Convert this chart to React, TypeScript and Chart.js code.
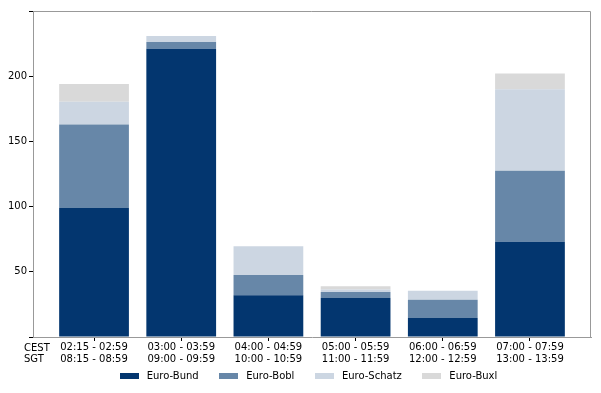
import React, { useEffect, useRef } from 'react';
import { Chart, registerables } from 'chart.js';

Chart.register(...registerables);

const timeLabels: string[][] = [
  ['02:15 - 02:59', '08:15 - 08:59'],
  ['03:00 - 03:59', '09:00 - 09:59'],
  ['04:00 - 04:59', '10:00 - 10:59'],
  ['05:00 - 05:59', '11:00 - 11:59'],
  ['06:00 - 06:59', '12:00 - 12:59'],
  ['07:00 - 07:59', '13:00 - 13:59'],
];
const zoneLabels = ['CEST', 'SGT'];

const seriesNames = ['Euro-Bund', 'Euro-Bobl', 'Euro-Schatz', 'Euro-Buxl'];
const bund = [99, 221, 32, 30, 14.5, 73];
const bobl = [64, 5.3, 15.5, 4.5, 14, 54.5];
const schatz = [17.5, 4.6, 22, 2, 7, 62.5];
const buxl = [13.5, 0, 0, 2.5, 0, 12];
const seriesColors = ['#03366F', '#6787A8', '#CCD6E2', '#D9D9D9'];

const yTicks = [0, 50, 100, 150, 200, 250];

const FONT = 'DejaVu Sans';

const framePlugin = {
  id: 'frameAndExtras',
  afterDraw(chart: any) {
    const { ctx, chartArea } = chart;
    const { left, right, top, bottom } = chartArea;
    ctx.save();
    ctx.strokeStyle = '#999999';
    ctx.lineWidth = 1;
    ctx.beginPath();
    const t = Math.round(top) + 0.5;
    const r = Math.round(right) - 0.5;
    ctx.moveTo(Math.round(left), t);
    ctx.lineTo(r, t);
    ctx.lineTo(r, Math.round(bottom));
    ctx.stroke();

    // zone labels
    ctx.fillStyle = '#000';
    ctx.font = `10px "${FONT}"`;
    ctx.textAlign = 'left';
    ctx.textBaseline = 'middle';
    ctx.fillText(zoneLabels[0], 24, bottom + 11);
    ctx.fillText(zoneLabels[1], 24, bottom + 22.6);

    // legend
    const datasets = chart.data.datasets;
    const boxW = 19, boxH = 6, gap = 8, spacing = 20.5;
    const widths = datasets.map((d: any) => ctx.measureText(d.label).width);
    const total = widths.reduce((a: number, b: number) => a + b, 0) + datasets.length * (boxW + gap) + (datasets.length - 1) * spacing;
    let x = (left + right) / 2 - 3.5 - total / 2;
    const cy = 376.5;
    datasets.forEach((d: any, i: number) => {
      ctx.fillStyle = d.backgroundColor;
      ctx.fillRect(Math.round(x), Math.round(cy - boxH / 2 - 0.5), boxW, boxH);
      ctx.fillStyle = '#000';
      ctx.fillText(d.label, x + boxW + gap, cy);
      x += boxW + gap + widths[i] + spacing;
    });
    ctx.restore();
  },
};

export default function App() {
  const ref = useRef<HTMLCanvasElement>(null);
  useEffect(() => {
    if (!ref.current) return;
    const series = [bund, bobl, schatz, buxl];
    const chart = new Chart(ref.current, {
      type: 'bar',
      data: {
        datasets: series.map((vals, si) => ({
          label: seriesNames[si],
          data: vals.map((v, i) => ({ x: i, y: v })),
          backgroundColor: seriesColors[si],
          borderWidth: 0,
          barPercentage: 0.8,
          categoryPercentage: 1,
          stack: 's',
        })),
      },
      options: {
        animation: false,
        responsive: false,
        maintainAspectRatio: false,
        layout: { padding: { top: 11, right: 10, left: 0, bottom: 0 } },
        plugins: { legend: { display: false }, tooltip: { enabled: false } },
        scales: {
          x: {
            type: 'linear',
            stacked: true,
            offset: false,
            min: -0.7,
            max: 5.7,
            afterBuildTicks: (scale: any) => {
              scale.ticks = timeLabels.map((_, i) => ({ value: i }));
            },
            afterFit: (scale: any) => {
              scale.height = 56;
            },
            grid: { offset: false, drawOnChartArea: false, drawTicks: true, tickLength: 4, tickColor: '#000' },
            border: { color: '#999999' },
            ticks: {
              autoSkip: false,
              maxRotation: 0,
              padding: 1,
              color: '#000',
              font: { family: FONT, size: 10, lineHeight: 1.16 },
              callback: (v: any) => timeLabels[Math.round(Number(v))] ?? '',
            },
          },
          y: {
            stacked: true,
            min: 0,
            max: 250,
            afterBuildTicks: (scale: any) => {
              scale.ticks = yTicks.map((v) => ({ value: v }));
            },
            afterFit: (scale: any) => {
              scale.width = 33;
            },
            grid: { drawOnChartArea: false, drawTicks: true, tickLength: 4, tickColor: '#000' },
            border: { color: '#999999' },
            ticks: {
              padding: 2,
              color: '#000',
              font: { family: FONT, size: 10 },
              callback: (v: any) => (v === 0 || v === 250 ? '' : String(v)),
            },
          },
        },
      },
      plugins: [framePlugin],
    });
    return () => chart.destroy();
  }, []);
  return (
    <div style={{ position: 'absolute', left: 0, top: 0, width: 601, height: 393, background: '#fff' }}>
      <canvas ref={ref} width={601} height={393} style={{ width: 601, height: 393, display: 'block' }} />
    </div>
  );
}
